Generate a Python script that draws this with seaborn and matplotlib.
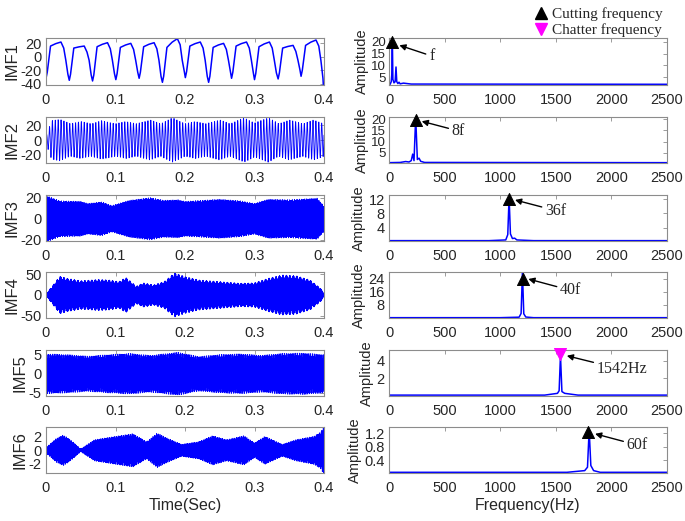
import numpy as np
import matplotlib
matplotlib.use('Agg')
import matplotlib.pyplot as plt
from matplotlib.lines import Line2D
import seaborn as sns

sns.set_style('white')
plt.rcParams['font.family'] = ['Liberation Sans', 'DejaVu Sans']
plt.rcParams['axes.unicode_minus'] = False

# ==================== data ====================
fs = 5000.0            # sampling rate (spectrum runs to 2500 Hz)
t = np.arange(0, 0.4 + 1 / fs, 1 / fs)

# IMF1: cutting frequency wave, one trough / knee / peak per cycle
imf1_trough_t = [0.0, 0.0335, 0.067, 0.1005, 0.134, 0.1675, 0.2005, 0.234, 0.267, 0.300, 0.334, 0.367, 0.399]
imf1_trough_v = [-32, -35, -36, -34, -32, -38, -31, -38, -32, -34, -33, -29, -41]
imf1_knee_v = [16, 13, 15, 14, 15, 14, 16, 14, 16, 15, 13, 17]
imf1_peak_v = [22, 16, 21, 20, 21, 27, 22, 20, 22, 22, 17, 25]

# envelopes of the dense IMFs (time, amplitude) and their carrier frequencies
imf_freq = [240, 1080, 1200, 1542, 1800]
imf2_env_t = [0, 0.008, 0.02, 0.035, 0.05, 0.065, 0.08, 0.1, 0.115, 0.13, 0.15, 0.165, 0.182, 0.2,
              0.215, 0.23, 0.25, 0.265, 0.285, 0.3, 0.32, 0.335, 0.35, 0.37, 0.385, 0.4]
imf2_env_v = [5, 26, 28, 22, 25, 22, 26, 22, 25, 22, 27, 22, 30, 22, 25, 22, 27, 22, 30, 23, 30, 22, 27, 22, 27, 22]
imf3_env_t = [0, 0.02, 0.05, 0.06, 0.08, 0.095, 0.12, 0.15, 0.17, 0.19, 0.2, 0.25, 0.28, 0.3, 0.32, 0.35, 0.39, 0.4]
imf3_env_v = [22, 17, 16.5, 14.5, 16, 12.5, 17.5, 20, 17.5, 18, 16.5, 18.5, 17, 14.5, 18.5, 18, 19.5, 12]
imf4_env_t = [0, 0.02, 0.03, 0.05, 0.075, 0.09, 0.105, 0.115, 0.13, 0.14, 0.155, 0.17, 0.185, 0.2,
              0.22, 0.25, 0.28, 0.3, 0.32, 0.34, 0.36, 0.38, 0.395, 0.4]
imf4_env_v = [2, 45, 40, 34, 37, 36, 32, 42, 21, 29, 24, 32, 53, 44, 36, 32, 28, 29, 40, 48, 46, 36, 16, 4]
imf5_env_t = [0, 0.03, 0.06, 0.09, 0.12, 0.15, 0.19, 0.22, 0.25, 0.28, 0.31, 0.34, 0.37, 0.4]
imf5_env_v = [5.2, 5.0, 4.6, 5.0, 5.3, 4.8, 5.6, 4.5, 5.0, 5.2, 4.8, 5.3, 5.4, 5.0]
imf6_env_t = [0, 0.015, 0.025, 0.035, 0.05, 0.07, 0.1, 0.125, 0.145, 0.16, 0.175, 0.195, 0.22,
              0.24, 0.26, 0.285, 0.3, 0.315, 0.34, 0.36, 0.385, 0.395, 0.4]
imf6_env_v = [0.4, 1.8, 2.3, 1.6, 0.2, 1.6, 2.1, 2.5, 1.3, 2.6, 1.8, 0.9, 1.3, 2.2, 1.6, 2.2, 1.1,
              2.1, 0.9, 1.6, 2.1, 2.7, 3.7]

imf_labels = ['IMF1', 'IMF2', 'IMF3', 'IMF4', 'IMF5', 'IMF6']
imf_ylim = [(-42, 28), (-31, 31), (-21, 22.5), (-55, 55), (-5.8, 6.2), (-3.4, 3.5)]
imf_yticks = [[-40, -20, 0, 20], [-20, 0, 20], [-20, 0, 20], [-50, 0, 50], [-5, 0, 5], [-2, 0, 2]]

# amplitude spectra (frequency Hz, amplitude)
spec_f = [
    [0, 10, 20, 25, 30, 35, 45, 55, 63, 70, 80, 90, 100, 130, 200, 2500],
    [0, 100, 150, 180, 200, 213, 225, 240, 255, 270, 285, 320, 2500],
    [0, 900, 1050, 1068, 1080, 1092, 1110, 1130, 1150, 1300, 2500],
    [0, 1000, 1170, 1188, 1200, 1212, 1230, 1300, 2500],
    [0, 1400, 1515, 1530, 1542, 1555, 1580, 1700, 2500],
    [0, 1600, 1760, 1785, 1800, 1815, 1840, 1900, 2500],
]
spec_a = [
    [1.8, 1.9, 3.0, 6.0, 21.5, 4.0, 2.5, 3.0, 9.3, 3.0, 2.2, 2.8, 2.1, 2.4, 2.0, 1.9],
    [0.6, 0.7, 1.1, 0.9, 1.5, 4.4, 1.5, 20.9, 2.0, 2.6, 1.2, 0.7, 0.6],
    [0.3, 0.3, 0.5, 2.0, 12.6, 2.2, 0.9, 1.0, 0.5, 0.3, 0.3],
    [0.2, 0.2, 0.5, 2.8, 28.3, 2.6, 0.6, 0.2, 0.2],
    [0.1, 0.1, 0.3, 0.6, 4.6, 0.5, 0.3, 0.1, 0.1],
    [0.05, 0.05, 0.1, 0.2, 1.3, 0.25, 0.1, 0.05, 0.05],
]
spec_ylim = [(1.6, 21.7), (0.45, 20.9), (0.2, 13.2), (0, 28.3), (0, 5.2), (0.03, 1.38)]
spec_yticks = [[5, 10, 15, 20], [5, 10, 15, 20], [4, 8, 12], [8, 16, 24], [2, 4], [0.4, 0.8, 1.2]]

# peak markers and labels
mark_f = [30, 243, 1079, 1202, 1538, 1793]
mark_a = [20.0, 19.5, 12.0, 24.3, 4.73, 1.22]
mark_kind = ['cut', 'cut', 'cut', 'cut', 'chat', 'cut']
note_text = ['f', '8f', '36f', '40f', '1542Hz', '60f']
note_xy = [(93, 18.6), (294, 19.0), (1133, 11.8), (1253, 24.0), (1599, 4.55), (1853, 1.18)]
note_txt_xy = [(360, 14.0), (564, 14.7), (1403, 8.8), (1538, 17.0), (1868, 3.0), (2137, 0.85)]

# ==================== build IMF1 from its keypoints ====================
imf1_t, imf1_v = [], []
for k in range(len(imf1_peak_v)):
    t0 = imf1_trough_t[k]
    tr, kn, pk = imf1_trough_v[k], imf1_knee_v[k], imf1_peak_v[k]
    imf1_t += [t0, t0 + 0.0018, t0 + 0.0065, t0 + 0.014, t0 + 0.0215, t0 + 0.0255, t0 + 0.0285, t0 + 0.0315]
    imf1_v += [tr, tr + 9, kn, kn + 0.6 * (pk - kn), pk, pk - 9, -5, imf1_trough_v[k + 1] + 9]
imf1_t.append(imf1_trough_t[-1])
imf1_v.append(imf1_trough_v[-1])

envs = [(imf2_env_t, imf2_env_v), (imf3_env_t, imf3_env_v), (imf4_env_t, imf4_env_v),
        (imf5_env_t, imf5_env_v), (imf6_env_t, imf6_env_v)]
signals = [(np.array(imf1_t), np.array(imf1_v))]
for (et, ev), f in zip(envs, imf_freq):
    signals.append((t, np.interp(t, et, ev) * np.sin(2 * np.pi * f * t + 0.3)))

# ==================== figure ====================
W, H = 685, 521
fig = plt.figure(figsize=(W / 100, H / 100), dpi=100)
rows = [(38, 85), (117, 163), (195, 241), (272, 318), (350, 396), (427, 473)]

def style(ax):
    for s in ax.spines.values():
        s.set_color('#8c8c8c')
        s.set_linewidth(0.8)
    ax.tick_params(direction='in', top=True, right=True, length=3, width=0.6,
                   color='#8c8c8c', labelsize=10.5, labelcolor='#262626')
    ax.tick_params(axis='x', pad=6)
    ax.tick_params(axis='y', pad=3)

serif = ['Liberation Serif', 'DejaVu Serif']

for i, (top, bot) in enumerate(rows):
    # ---- left: time signal ----
    ax = fig.add_axes([46 / W, 1 - bot / H, 278 / W, (bot - top) / H])
    x, y = signals[i]
    sns.lineplot(x=x, y=y, ax=ax, color='#0000ff', lw=1.1 if i == 0 else 0.6, sort=False)
    ax.set_xlim(0, 0.4)
    ax.set_ylim(*imf_ylim[i])
    ax.set_yticks(imf_yticks[i])
    ax.set_xticks([0, 0.1, 0.2, 0.3, 0.4], ['0', '0.1', '0.2', '0.3', '0.4'])
    ax.set_ylabel(imf_labels[i], fontsize=12, color='#262626', labelpad=1)
    style(ax)
    if i == 5:
        ax.set_xlabel('Time(Sec)', fontsize=11.5, color='#262626', labelpad=2)

    # ---- right: spectrum ----
    ax = fig.add_axes([389 / W, 1 - bot / H, 278 / W, (bot - top) / H])
    sns.lineplot(x=spec_f[i], y=spec_a[i], ax=ax, color='#0000ff', lw=1.1)
    ax.set_xlim(0, 2500)
    ax.set_ylim(*spec_ylim[i])
    ax.set_yticks(spec_yticks[i])
    ax.set_xticks([0, 500, 1000, 1500, 2000, 2500])
    ax.set_ylabel('Amplitude', fontsize=10.5, color='#262626', labelpad=2)
    style(ax)
    if len(spec_yticks[i]) > 3:
        # four ticks in a short panel: squeeze them a little
        ax.tick_params(axis='y', labelsize=9.5, pad=2)
    if i == 5:
        ax.set_xlabel('Frequency(Hz)', fontsize=11.5, color='#262626', labelpad=2)
    if mark_kind[i] == 'cut':
        sns.scatterplot(x=[mark_f[i]], y=[mark_a[i]], ax=ax, marker='^', color='black',
                        s=75, edgecolor='black', zorder=5, clip_on=False)
    else:
        sns.scatterplot(x=[mark_f[i]], y=[mark_a[i]], ax=ax, marker='v', color='#ff00ff',
                        s=75, edgecolor='#ff00ff', zorder=5, clip_on=False)
    ax.annotate(note_text[i], xy=note_xy[i], xytext=note_txt_xy[i], ha='left', va='center',
                fontsize=11.5, family=serif,
                arrowprops=dict(arrowstyle='-|>', color='black', lw=1.0,
                                shrinkA=0, shrinkB=0, mutation_scale=9))

handles = [Line2D([], [], ls='none', marker='^', color='black', markersize=8),
           Line2D([], [], ls='none', marker='v', color='#ff00ff', markersize=8)]
fig.legend(handles, ['Cutting frequency', 'Chatter frequency'], loc='upper right',
           bbox_to_anchor=(676 / W, 1.012), frameon=False, handletextpad=0.1,
           handlelength=1.2, labelspacing=0.15, prop={'family': serif, 'size': 11})

fig.savefig('out.png', dpi=100)
